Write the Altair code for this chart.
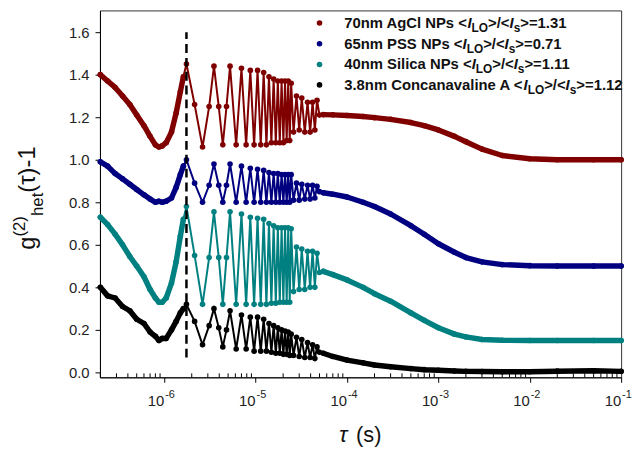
import altair as alt
import pandas as pd

# ---------------- data ----------------
SERIES = ["70nm AgCl NPs", "65nm PSS NPs", "40nm Silica NPs", "3.8nm Concanavaline A"]
RATIOS = ["1.31", "0.71", "1.11", "1.12"]
COLORS = ["#800000", "#000080", "#008080", "#000000"]

# delay times in microseconds
TAU_US = [
    0.20, 0.24, 0.29, 0.35, 0.42, 0.50, 0.60, 0.70, 0.80, 0.875, 0.95, 1.05, 1.20, 1.35, 1.50, 1.62,
    1.75, 2.15, 2.625, 3.1, 3.5, 3.95, 4.375, 4.8, 5.25, 6.125, 7.0, 7.875, 8.75, 9.625, 10.5,
    11.375, 12.25, 13.125, 14.0, 14.875, 15.75, 16.625, 17.5, 18.375, 19.25, 20.125, 21.0,
    21.875, 22.75, 23.625, 24.5,
    26.0, 28.0, 30.0, 32.0, 34.5, 37.0, 39.5, 42.0, 44.5, 47.0, 50.0,
    55, 70, 100, 150, 200, 300, 500, 700, 1000, 1500, 2000, 3000, 5000, 10000, 20000, 50000, 100000,
]

G_AGCL = [
    1.40, 1.37, 1.34, 1.30, 1.26, 1.21, 1.16, 1.11, 1.07, 1.06, 1.065, 1.08, 1.13, 1.22, 1.32, 1.39,
    1.45, 1.26, 1.06, 1.25, 1.44, 1.25, 1.07, 1.25, 1.44, 1.07, 1.43, 1.07, 1.42, 1.07, 1.42,
    1.07, 1.41, 1.07, 1.39, 1.08, 1.38, 1.08, 1.37, 1.08, 1.37, 1.08, 1.37,
    1.09, 1.37, 1.09, 1.36,
    1.13, 1.30, 1.14, 1.29, 1.13, 1.27, 1.13, 1.27, 1.14, 1.28, 1.21,
    1.212, 1.211, 1.208, 1.203, 1.198, 1.19, 1.175, 1.16, 1.14, 1.11, 1.085, 1.05, 1.02, 1.005, 1.0, 1.0, 1.0,
]
G_PSS = [
    0.99, 0.97, 0.935, 0.91, 0.885, 0.86, 0.835, 0.815, 0.80, 0.805, 0.80, 0.805, 0.82, 0.87, 0.93, 0.97,
    1.0, 0.89, 0.80, 0.88, 0.98, 0.88, 0.80, 0.88, 0.98, 0.80, 0.97, 0.80, 0.96, 0.80, 0.955,
    0.80, 0.95, 0.80, 0.94, 0.80, 0.935, 0.80, 0.935, 0.80, 0.93, 0.80, 0.93,
    0.80, 0.93, 0.80, 0.93,
    0.81, 0.89, 0.81, 0.885, 0.815, 0.88, 0.815, 0.88, 0.82, 0.875, 0.85,
    0.845, 0.838, 0.825, 0.80, 0.78, 0.745, 0.69, 0.65, 0.605, 0.565, 0.54, 0.52, 0.507, 0.502, 0.50, 0.50, 0.50,
]
G_SILICA = [
    0.73, 0.695, 0.65, 0.60, 0.545, 0.50, 0.45, 0.39, 0.35, 0.33, 0.33, 0.35, 0.42, 0.52, 0.64, 0.72,
    0.78, 0.55, 0.32, 0.54, 0.755, 0.54, 0.32, 0.54, 0.755, 0.32, 0.745, 0.32, 0.73, 0.32, 0.725,
    0.32, 0.72, 0.32, 0.70, 0.325, 0.69, 0.325, 0.68, 0.33, 0.68, 0.33, 0.68,
    0.33, 0.68, 0.33, 0.675,
    0.38, 0.59, 0.39, 0.58, 0.39, 0.57, 0.40, 0.57, 0.40, 0.56, 0.47,
    0.475, 0.46, 0.435, 0.40, 0.37, 0.335, 0.28, 0.245, 0.21, 0.18, 0.167, 0.155, 0.151, 0.15, 0.15, 0.15, 0.15,
]
G_CONA = [
    0.40, 0.36, 0.35, 0.31, 0.29, 0.25, 0.23, 0.19, 0.17, 0.15, 0.16, 0.16, 0.20, 0.24, 0.28, 0.30,
    0.32, 0.24, 0.13, 0.22, 0.30, 0.21, 0.12, 0.20, 0.29, 0.11, 0.27, 0.11, 0.26, 0.10, 0.26,
    0.10, 0.25, 0.10, 0.23, 0.095, 0.22, 0.09, 0.21, 0.09, 0.20, 0.085, 0.195,
    0.085, 0.19, 0.08, 0.18,
    0.08, 0.165, 0.075, 0.155, 0.07, 0.14, 0.07, 0.13, 0.065, 0.12, 0.095,
    0.09, 0.075, 0.058, 0.045, 0.035, 0.027, 0.018, 0.013, 0.01, 0.007, 0.005, 0.004, 0.003, 0.003, 0.006, 0.008, 0.005,
]

Y_TICKS = [0.0, 0.2, 0.4, 0.6, 0.8, 1.0, 1.2, 1.4, 1.6]
DECADES = [1e-6, 1e-5, 1e-4, 1e-3, 1e-2, 1e-1]
DECADE_EXP = ["-6", "-5", "-4", "-3", "-2", "-1"]
DASH_TAU = [1.75e-6]
DASH_Y = [0.07, 1.60]

# ---------------- layout ----------------
W, H = 527, 371
FONT = "Liberation Sans"
TXT = "#111"

rows = []
for name, vals in zip(SERIES, [G_AGCL, G_PSS, G_SILICA, G_CONA]):
    for i, (t, g) in enumerate(zip(TAU_US, vals)):
        tau = t * 1e-6
        seg = "early" if tau < 1.7e-6 else ("late" if tau >= 5e-5 else "osc")
        rows.append({"tau": tau, "g": g, "series": name, "idx": i, "seg": seg})
df = pd.DataFrame(rows)

minor = [m * 10.0 ** e for e in range(-7, -1) for m in range(2, 10)]
minor = [v for v in minor if 1.98e-7 < v < 0.1]
df_minor = pd.DataFrame({"tau": minor})
df_dec = pd.DataFrame({"tau": DECADES, "base": ["10"] * len(DECADES), "exp": DECADE_EXP})
df_dash = pd.DataFrame({"tau": DASH_TAU, "g": [DASH_Y[0]], "g2": [DASH_Y[1]]})
ONE = pd.DataFrame({"k": [0]})

xs = alt.Scale(type="log", domain=[1.98e-7, 0.1], nice=False)
ys = alt.Scale(domain=[-0.023, 1.702], nice=False, zero=False)
cs = alt.Scale(domain=SERIES, range=COLORS)

X_AXIS = alt.Axis(values=DECADES, labels=False, title=None, tickSize=5, grid=False,
                  domainColor="#000", tickColor="#000")
Y_AXIS = alt.Axis(values=Y_TICKS, format=".1f", title=None, tickSize=5, labelPadding=6,
                  labelFontSize=15, labelFont=FONT, labelColor="#222", grid=False,
                  domainColor="#000", tickColor="#000")
x_enc = alt.X("tau:Q", scale=xs, axis=X_AXIS)
y_enc = alt.Y("g:Q", scale=ys, axis=Y_AXIS)
color = alt.Color("series:N", scale=cs, legend=None)

lines = alt.Chart(df).mark_line(strokeWidth=2.0).encode(
    x=x_enc, y=y_enc, color=color, order="idx:Q")
thick = alt.Chart(df).transform_filter("datum.seg != 'osc'").mark_line(
    strokeWidth=5.5, strokeCap="round", strokeJoin="round").encode(
    x=x_enc, y=y_enc, color=color, detail="seg:N", order="idx:Q")
points = alt.Chart(df).mark_circle(size=32, opacity=1).encode(
    x=x_enc, y=y_enc, color=color)

dash = alt.Chart(df_dash).mark_rule(strokeDash=[9, 5], strokeWidth=2.5, color="#000").encode(
    x=x_enc, y=y_enc, y2="g2:Q")

minor_ticks = alt.Chart(df_minor).mark_rule(color="#000", strokeWidth=1).encode(
    x=x_enc, y=alt.value(H), y2=alt.value(H - 4))

tick_base = alt.Chart(df_dec).mark_text(align="right", baseline="middle", fontSize=15, font=FONT,
                                        color="#222").encode(
    x=x_enc, y=alt.value(H + 24), text="base:N")
tick_exp = alt.Chart(df_dec).mark_text(align="left", baseline="middle", fontSize=11, font=FONT,
                                       color="#222", dx=1).encode(
    x=x_enc, y=alt.value(H + 18), text="exp:N")


def label(text, px, py, fs, **kw):
    return alt.Chart(ONE).mark_text(fontSize=fs, font=FONT, color=TXT, **kw).encode(
        x=alt.value(px), y=alt.value(py), text=alt.value(text))


# ---------------- legend (text pieces) ----------------
BOLD_W = {' ': 278, '.': 278, '/': 278, '<': 584, '=': 584, '>': 584, 'A': 722, 'C': 722, 'I': 278,
          'L': 611, 'N': 722, 'O': 778, 'P': 667, 'S': 667, 'a': 556, 'c': 556, 'e': 556, 'g': 611,
          'i': 278, 'l': 278, 'm': 889, 'n': 611, 'o': 611, 's': 556, 'v': 556}


def bw(s, size):
    return sum(BOLD_W.get(c, 556) for c in s) * size / 1000.0


LEG_X, LEG_DOT_X = 247, 222
LEG_Y = [12.7, 33.7, 54.7, 75.3]
FS, FS_SUB, SUB_DY = 15, 12, 5

legend_layers = []
for name, ratio, col, ly in zip(SERIES, RATIOS, COLORS, LEG_Y):
    legend_layers.append(alt.Chart(ONE).mark_circle(size=32, opacity=1, color=col).encode(
        x=alt.value(LEG_DOT_X), y=alt.value(ly)))
    x = LEG_X
    pieces = [(name + " <", FS, 0, "normal"), ("I", FS, 0, "italic"), ("LO", FS_SUB, SUB_DY, "normal"),
              (">/<", FS, 0, "normal"), ("I", FS, 0, "italic"), ("s", FS_SUB, SUB_DY, "normal"),
              (">=" + ratio, FS, 0, "normal")]
    for txt, fs, dy, st in pieces:
        legend_layers.append(label(txt, x, ly + dy, fs, align="left", baseline="middle",
                                   fontWeight="bold", fontStyle=st))
        x += bw(txt, fs)

# ---------------- axis titles ----------------
REG_W = {'g': 556, '(': 333, ')': 333, '2': 556, 'h': 556, 'e': 556, 't': 278}


def rw(s, size):
    return sum(REG_W.get(c, 556) for c in s) * size / 1000.0


YT_BASE_X, YT_START_Y = -66, 242
YT_BIG, YT_SMALL = 24, 17
title_layers = []
yy = YT_START_Y
for txt, fs, dx in [("g", YT_BIG, 0), ("(2)", YT_SMALL, -10), ("het", YT_SMALL, 8), ("(τ)-1", YT_BIG, 0)]:
    title_layers.append(label(txt, YT_BASE_X + dx, yy, fs, align="left", baseline="alphabetic", angle=270))
    yy -= rw(txt, fs)

title_layers.append(label("τ", 242, 436, 22, align="left", baseline="alphabetic", fontStyle="italic"))
title_layers.append(label("(s)", 259, 436, 22, align="left", baseline="alphabetic"))

chart = alt.layer(
    lines, thick, points, dash, minor_ticks, tick_base, tick_exp,
    *legend_layers, *title_layers
).properties(
    width=W, height=H,
    autosize=alt.AutoSizeParams(type="none"),
    padding={"left": 93, "top": 0, "right": 12, "bottom": 69},
).configure_view(stroke="#333", strokeWidth=1)

chart.save("out.html", embed_options={"renderer": "svg", "actions": False})
